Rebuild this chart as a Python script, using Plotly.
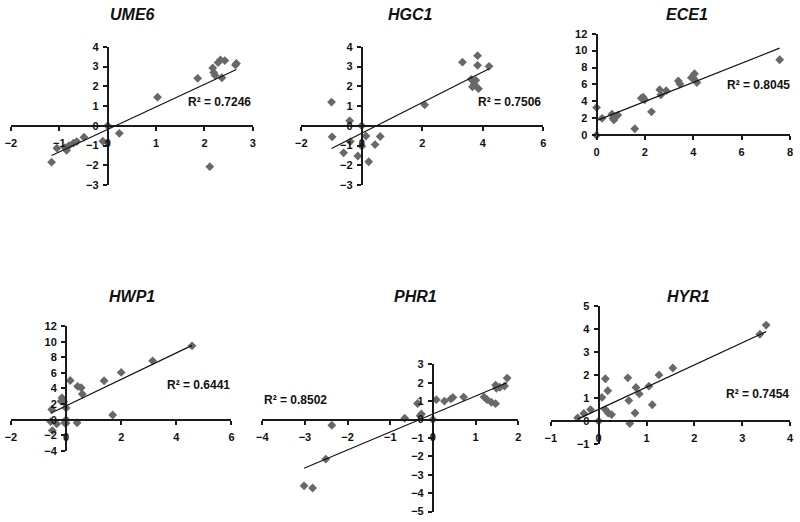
import plotly.graph_objects as go

# ---------------- data ----------------
titles = ["UME6", "HGC1", "ECE1", "HWP1", "PHR1", "HYR1"]
r2_labels = ["R² = 0.7246", "R² = 0.7506", "R² = 0.8045", "R² = 0.6441", "R² = 0.8502", "R² = 0.7454"]

ume6_x = [-1.16, -1.05, -0.88, -0.85, -0.80, -0.71, -0.64, -0.49, -0.10, 0.0, 0.24, 1.03, 1.86, 2.11,
          2.17, 2.19, 2.22, 2.28, 2.33, 2.36, 2.42, 2.64, 2.66]
ume6_y = [-1.84, -1.13, -1.11, -1.24, -1.00, -0.88, -0.80, -0.58, -0.78, 0.0, -0.38, 1.45, 2.40, -2.07,
          2.93, 2.70, 2.55, 3.20, 3.33, 2.43, 3.30, 3.08, 3.15]

hgc1_x = [-1.00, -0.98, -0.60, -0.40, -0.38, -0.13, 0.0, 0.0, 0.14, 0.23, 0.44, 0.61, 2.08, 3.33,
          3.62, 3.66, 3.72, 3.77, 3.83, 3.83, 3.86, 4.21]
hgc1_y = [1.20, -0.56, -1.37, 0.25, -0.80, -1.53, 0.0, -1.03, -0.52, -1.82, -0.95, -0.54, 1.06, 3.22,
          2.35, 1.97, 2.10, 2.30, 3.55, 3.06, 1.88, 3.01]

ece1_x = [0.0, 0.0, 0.23, 0.64, 0.68, 0.72, 0.77, 0.88, 1.58, 1.85, 1.93, 1.99, 2.27, 2.61, 2.66,
          2.88, 3.38, 3.45, 3.92, 4.01, 4.05, 4.15, 7.57]
ece1_y = [0.0, 3.27, 2.00, 2.50, 2.00, 1.81, 2.20, 2.38, 0.77, 4.38, 4.50, 4.19, 2.77, 5.38, 4.77,
          5.27, 6.42, 6.04, 6.80, 6.73, 7.27, 6.23, 8.92]

hwp1_x = [-0.56, -0.52, -0.50, -0.34, -0.18, -0.15, -0.08, -0.05, 0.0, 0.0, 0.0, 0.15, 0.40, 0.42,
          0.55, 0.59, 1.38, 1.69, 2.00, 3.14, 4.57]
hwp1_y = [-0.25, 1.30, -1.40, -0.54, 2.35, 2.80, 2.30, -0.40, 0.0, 1.50, -0.45, 5.03, -0.40, 4.28,
          4.10, 3.30, 5.00, 0.60, 6.06, 7.55, 9.48]

phr1_x = [-3.02, -2.82, -2.51, -2.37, -0.66, -0.30, -0.27, -0.36, 0.0, 0.08, 0.27, 0.42, 0.47, 0.72,
          1.20, 1.27, 1.37, 1.47, 1.47, 1.49, 1.57, 1.68, 1.74]
phr1_y = [-3.60, -3.72, -2.15, -0.31, 0.07, 0.20, 0.30, 0.87, 0.0, 1.08, 1.00, 1.12, 1.20, 1.22,
          1.22, 1.08, 0.94, 0.86, 1.87, 1.70, 1.75, 1.82, 2.25]

hyr1_x = [-0.44, -0.31, -0.17, 0.0, 0.07, 0.14, 0.14, 0.19, 0.20, 0.27, 0.61, 0.63, 0.65, 0.76,
          0.78, 0.85, 1.05, 1.12, 1.26, 1.55, 3.37, 3.50]
hyr1_y = [0.14, 0.33, 0.50, 0.0, 1.03, 1.84, 0.50, 1.32, 0.35, 0.28, 1.88, 0.89, -0.11, 0.35,
          1.46, 1.18, 1.52, 0.71, 2.01, 2.31, 3.78, 4.18]

# linear trendline coefficients (slope, intercept)
trend_slope = [1.14, 0.775, 1.13, 1.70, 0.975, 0.967]
trend_intercept = [-0.18, -0.375, 1.73, 1.77, 0.30, 0.51]

# axis ranges and tick steps
x_ranges = [[-2, 3], [-2, 6], [0, 8], [-2, 6], [-4, 2], [-1, 4]]
y_ranges = [[-3, 4], [-3, 4], [0, 12], [-4, 12], [-5, 3], [-1, 5]]
x_dticks = [1, 2, 2, 2, 1, 1]
y_dticks = [1, 1, 2, 2, 1, 1]

xs = [ume6_x, hgc1_x, ece1_x, hwp1_x, phr1_x, hyr1_x]
ys = [ume6_y, hgc1_y, ece1_y, hwp1_y, phr1_y, hyr1_y]

# ---------------- layout (pixel boxes) ----------------
W, H = 800, 522
# plot boxes: x0, x1, ytop, ybottom in pixels
boxes = [
    (5, 250, 41.7, 183.3),
    (299, 544, 41.7, 183.3),
    (598, 794, 28.3, 132.3),
    (5, 228.3, 327.7, 455.3),
    (259.5, 518.7, 366.7, 517.5),
    (551.7, 794, 307.3, 448.3),
]
title_pos = [(128, 9), (410, 9), (690, 9), (128, 297), (415, 297), (691, 297)]
r2_pos = [(216, 98), (510, 98), (762, 81), (195, 388), (293, 403), (761, 397)]

FONT = "Liberation Sans, Arial, sans-serif"
MARKER_COLOR = "#686868"
AXIS_COLOR = "#1a1a1a"

fig = go.Figure()
layout = dict(
    width=W, height=H,
    margin=dict(l=0, r=0, t=0, b=0),
    paper_bgcolor="white", plot_bgcolor="white",
    showlegend=False,
    annotations=[],
)

for i in range(6):
    n = "" if i == 0 else str(i + 1)
    xa, ya = "x" + n, "y" + n
    x0, x1, yt, yb = boxes[i]
    xd = [x0 / W, x1 / W]
    yd = [1 - yb / H, 1 - yt / H]
    xr, yr = x_ranges[i], y_ranges[i]
    # paper positions of the zero lines (axes cross at 0)
    ypos0 = yd[0] + (0 - yr[0]) / (yr[1] - yr[0]) * (yd[1] - yd[0])
    xpos0 = xd[0] + (0 - xr[0]) / (xr[1] - xr[0]) * (xd[1] - xd[0])

    fig.add_trace(go.Scatter(
        x=xs[i], y=ys[i], mode="markers", xaxis=xa, yaxis=ya,
        marker=dict(symbol="diamond", size=6.8, color=MARKER_COLOR, line=dict(width=0)),
        cliponaxis=False, hoverinfo="x+y",
    ))
    lx = [min(xs[i]), max(xs[i])]
    ly = [trend_slope[i] * v + trend_intercept[i] for v in lx]
    fig.add_trace(go.Scatter(
        x=lx, y=ly, mode="lines", xaxis=xa, yaxis=ya,
        line=dict(color="#111111", width=1.2), hoverinfo="skip",
    ))

    axis_common = dict(
        showgrid=False, zeroline=False, showline=True, linecolor=AXIS_COLOR, linewidth=2,
        ticks="outside", ticklen=4, tickwidth=1.5, tickcolor=AXIS_COLOR,
        tickfont=dict(family=FONT, size=11, color="#111111", weight="bold"),
        fixedrange=True,
    )
    layout["xaxis" + n] = dict(axis_common, domain=xd, range=xr, dtick=x_dticks[i], tick0=0,
                               anchor="free", position=ypos0, side="bottom",
                               ticklabelstandoff=3)
    layout["yaxis" + n] = dict(axis_common, domain=yd, range=yr, dtick=y_dticks[i], tick0=0,
                               anchor="free", position=xpos0, side="left",
                               ticklabelstandoff=2)

    tx, ty = title_pos[i]
    layout["annotations"].append(dict(
        text="<b><i>%s</i></b>" % titles[i], xref="paper", yref="paper",
        x=tx / W, y=1 - ty / H, xanchor="center", yanchor="middle", showarrow=False,
        font=dict(family=FONT, size=16, color="#111111"),
    ))
    rx, ry = r2_pos[i]
    layout["annotations"].append(dict(
        text="<b>%s</b>" % r2_labels[i], xref="paper", yref="paper",
        x=rx / W, y=1 - ry / H, xanchor="center", yanchor="middle", showarrow=False,
        font=dict(family=FONT, size=12, color="#111111"),
    ))

fig.update_layout(**layout)
fig.write_html(
    "out.html",
    config={"displayModeBar": False},
    post_script="document.documentElement.style.margin='0';document.body.style.margin='0';"
                "document.body.style.overflow='hidden';",
)
